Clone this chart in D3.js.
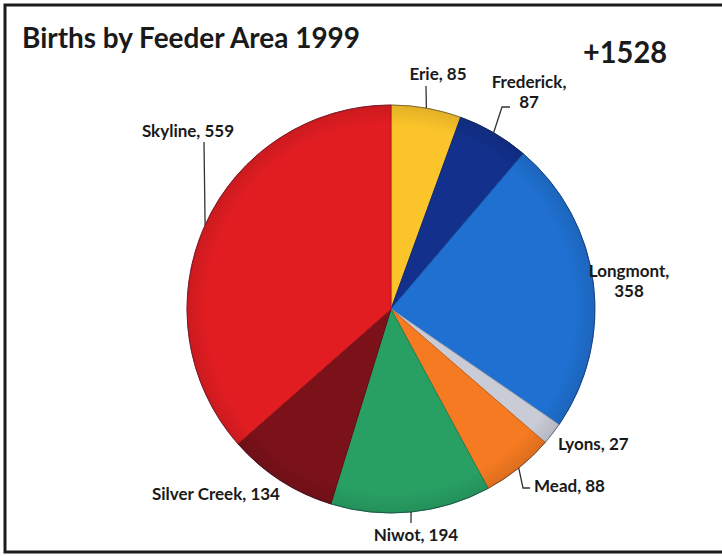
<!DOCTYPE html>
<html>
<head>
<meta charset="utf-8">
<script src="https://cdn.jsdelivr.net/npm/d3@7"></script>
<style>
  html, body { margin: 0; padding: 0; background: #fff; }
  svg { display: block; }
  text { font-family: Lato, "Open Sans", sans-serif; font-weight: bold; fill: #1a1a1a; }
</style>
</head>
<body>
<svg id="chart" width="722" height="556"></svg>
<script>
// ---- data ----
const categories = ["Erie", "Frederick", "Longmont", "Lyons", "Mead", "Niwot", "Silver Creek", "Skyline"];
const births = [85, 87, 358, 27, 88, 194, 134, 559];
const sliceColors = ["#fbc42a", "#12308c", "#1f70d1", "#c9ccd6", "#f57a21", "#28a064", "#7b1119", "#e21d22"];
const titleText = "Births by Feeder Area 1999";
const totalText = "+1528";

// ---- layout (label placement) ----
const labelLayout = {
  "Erie":         { lines: ["Erie, 85"], x: 438, y: 80, anchor: "middle", leader: [[426, 86]] },
  "Frederick":    { lines: ["Frederick,", "87"], x: 529, y: 88, anchor: "middle", leader: [[502, 107], [510, 107]] },
  "Longmont":     { lines: ["Longmont,", "358"], x: 629, y: 277, anchor: "middle", leader: null },
  "Lyons":        { lines: ["Lyons, 27"], x: 558, y: 450, anchor: "start", leader: null },
  "Mead":         { lines: ["Mead, 88"], x: 534, y: 492, anchor: "start", leader: [[523, 488], [530, 488]] },
  "Niwot":        { lines: ["Niwot, 194"], x: 416, y: 541, anchor: "middle", leader: [[411, 523]] },
  "Silver Creek": { lines: ["Silver Creek, 134"], x: 216, y: 500, anchor: "middle", leader: null },
  "Skyline":      { lines: ["Skyline, 559"], x: 188, y: 137, anchor: "middle", leader: [[204, 142]] }
};

const svg = d3.select("#chart");
const cx = 391, cy = 309, R = 204;

// frame
svg.append("rect").attr("x", 5).attr("y", 5).attr("width", 740).attr("height", 547)
  .attr("fill", "#fff").attr("stroke", "#1c1c1c").attr("stroke-width", 3);

// title
svg.append("text").attr("x", 22).attr("y", 48).attr("font-size", 29)
  .attr("textLength", 338).attr("lengthAdjust", "spacingAndGlyphs").text(titleText);
svg.append("text").attr("x", 583).attr("y", 63).attr("font-size", 31)
  .attr("textLength", 84).attr("lengthAdjust", "spacingAndGlyphs").text(totalText);

const data = categories.map((c, i) => ({ name: c, value: births[i], color: sliceColors[i] }));
const pie = d3.pie().value(d => d.value).sort(null);
const arcs = pie(data);
const arc = d3.arc().innerRadius(0).outerRadius(R);

const defs = svg.append("defs");
const rg = defs.append("radialGradient").attr("id", "shade")
  .attr("cx", "50%").attr("cy", "50%").attr("r", "50%");
rg.append("stop").attr("offset", "0%").attr("stop-color", "#000").attr("stop-opacity", 0.0);
rg.append("stop").attr("offset", "90%").attr("stop-color", "#000").attr("stop-opacity", 0.0);
rg.append("stop").attr("offset", "100%").attr("stop-color", "#000").attr("stop-opacity", 0.1);

const g = svg.append("g").attr("transform", `translate(${cx},${cy})`);
g.selectAll("path.slice").data(arcs).enter().append("path")
  .attr("class", "slice")
  .attr("d", arc)
  .attr("fill", d => d.data.color)
  .attr("stroke", d => d3.color(d.data.color).darker(0.6))
  .attr("stroke-width", 1);
g.append("circle").attr("r", R).attr("fill", "url(#shade)").attr("pointer-events", "none");
g.append("circle").attr("r", R).attr("fill", "none").attr("stroke", "#1b2a4a").attr("stroke-opacity", 0.4).attr("stroke-width", 1);

// labels + leaders
arcs.forEach(a => {
  const L = labelLayout[a.data.name];
  const mid = (a.startAngle + a.endAngle) / 2;
  if (L.leader) {
    const p0 = [cx + R * Math.sin(mid), cy - R * Math.cos(mid)];
    const pts = [p0].concat(L.leader);
    svg.append("path").attr("d", d3.line()(pts))
      .attr("fill", "none").attr("stroke", "#333").attr("stroke-width", 1.3);
  }
  const t = svg.append("text").attr("x", L.x).attr("y", L.y)
    .attr("text-anchor", L.anchor).attr("font-size", 17);
  L.lines.forEach((ln, i) => {
    t.append("tspan").attr("x", L.x).attr("dy", i === 0 ? 0 : 20).text(ln);
  });
});
</script>
</body>
</html>
